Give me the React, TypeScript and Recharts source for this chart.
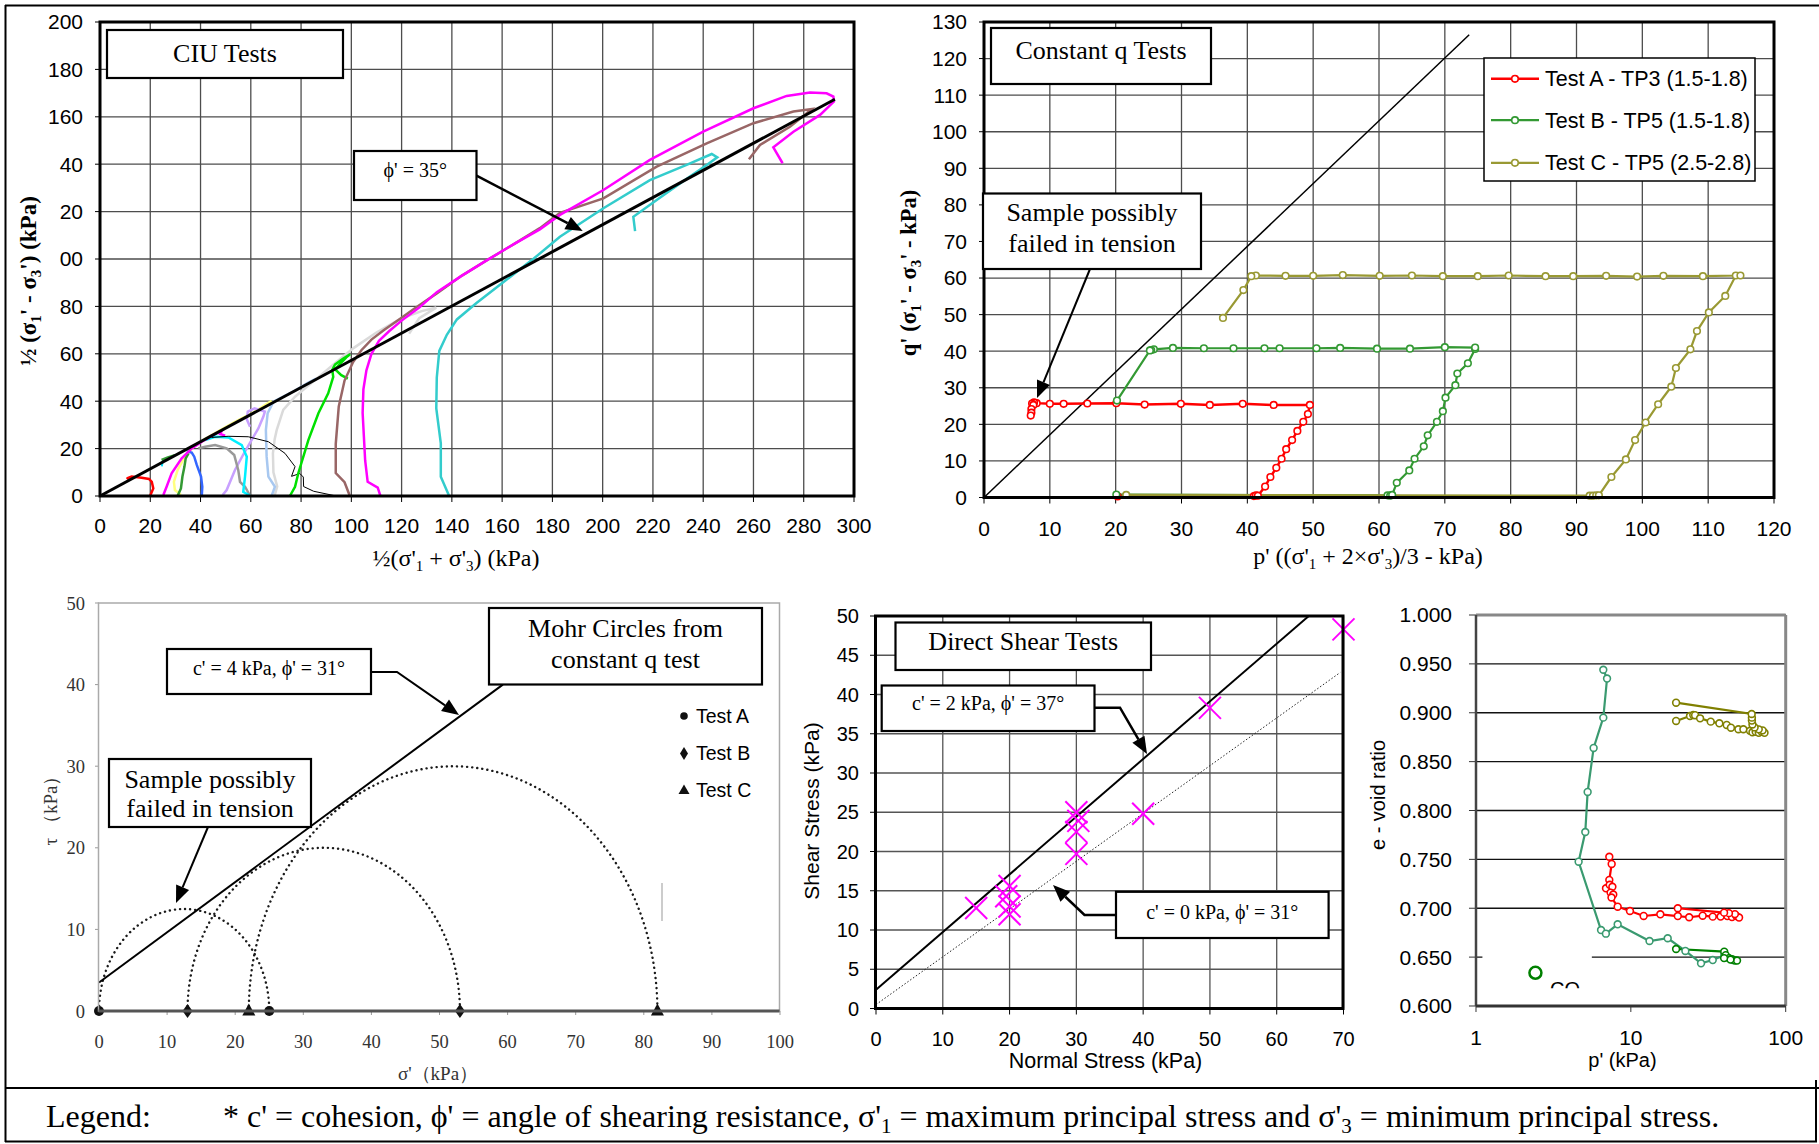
import React from "react";
import { ComposedChart, Line, Scatter, XAxis, YAxis, CartesianGrid, ReferenceArea } from "recharts";

const SERIF = "'Liberation Serif', 'Times New Roman', serif";
const SANS = "'Liberation Sans', Arial, sans-serif";

type Pt = [number, number];
const xy = (a: Pt[]) => a.map(([x, y]) => ({ x, y }));

// ---------- CIU tests: s' = ½(σ'1+σ'3), t' = ½(σ'1-σ'3) ----------
const ciuXTicks = [0, 20, 40, 60, 80, 100, 120, 140, 160, 180, 200, 220, 240, 260, 280, 300];
const ciuYTicks = [0, 20, 40, 60, 80, 100, 120, 140, 160, 180, 200];
const ciuYTickLabels = ["0", "20", "40", "60", "80", "00", "20", "40", "160", "180", "200"];
const ciuEnvelope: Pt[] = [[0, 0], [292.4, 167.4]];
const ciuLightGray: Pt[] = [[69.5, 0.3], [70.5, 4], [69, 10], [68.8, 18], [69.5, 24], [70.3, 27.8], [72.9, 36.3], [77.6, 41.9], [85.5, 48.9], [93.5, 56], [101, 62.5], [110, 69], [120, 75], [128, 78], [133.8, 79.5], [127, 75], [123, 68.5]];
const ciuLightBlue: Pt[] = [[68.3, 0.1], [69.6, 3.9], [67, 8.2], [66.3, 16.6], [66, 27.8], [66.7, 34.9], [69, 39.8], [77.6, 44.5], [82.9, 47.8], [86, 49.5]];
const ciuYellow: Pt[] = [[32.2, 0.4], [29.8, 2.5], [29.4, 6], [30.9, 11], [33.8, 16.6], [37.8, 21.5], [44.4, 25.7], [53.7, 31.3], [61.7, 35.6], [68.3, 40.2]];
const ciuLavender: Pt[] = [[48.8, 0.4], [50.4, 2.5], [53.7, 11], [57, 17.5], [60.3, 23.6], [63, 28.5], [65, 33.5], [65.6, 35.6], [61.5, 37], [58.8, 35.6], [58.4, 32.4], [59.7, 29.2]];
const ciuGray: Pt[] = [[59.7, 0.1], [57.7, 3.9], [55.7, 6], [55, 11], [53.4, 17.3], [50.4, 20.1], [45.8, 21.5], [41.8, 20.8], [39.1, 20.1]];
const ciuCyan: Pt[] = [[59.7, 0.1], [57, 1.8], [57.7, 8.2], [58.4, 16.6], [56.4, 21.5], [51.1, 24.7], [45.8, 25], [41.8, 23.6]];
const ciuCyanSmall: Pt[] = [[24.6, 12.5], [24.9, 14.5], [27, 15.6]];
const ciuBlue: Pt[] = [[40.5, 0.1], [40.7, 3.9], [40.2, 8.2], [38.5, 13.1], [37.5, 16.6], [36.5, 18.3], [34.5, 18.8]];
const ciuDarkGreen: Pt[] = [[30.9, 0.1], [32.2, 3.2], [32.8, 8.2], [33.6, 12.4], [34.1, 15.9], [35.2, 18]];
const ciuDarkGreenTop: Pt[] = [[24.5, 15.2], [27, 16.3], [29.8, 17.2]];
const ciuMagentaSmall: Pt[] = [[25.2, 0.4], [26.5, 3.9], [28.5, 9.6], [32.5, 15.9], [36.5, 20.1], [40.5, 22.9], [44.5, 25.5], [48.5, 27.6], [47.8, 26.2], [49.8, 25.5]];
const ciuRed: Pt[] = [[20, 0.2], [21.2, 3.2], [20.6, 6], [19.5, 7.2], [16.6, 7.7], [12.6, 8.2], [11, 7.5], [10.6, 7.2]];
const ciuArc: Pt[] = [[44.4, 24.7], [51, 25.2], [59, 25], [67, 22.9], [73.6, 18], [77.6, 12.4], [76.2, 8.3], [79.5, 9.5], [80.9, 8], [81, 4], [85, 2], [93.5, 0.1]];
const ciuGreen: Pt[] = [[75.6, 0.1], [77.6, 3.9], [78.9, 9.6], [82.9, 23.6], [86.9, 34.9], [90.8, 43.3], [92.8, 50.3], [92.4, 53.2], [93.5, 55.5], [96.5, 57.8], [99.5, 59.8], [98, 58.5], [93.5, 53.5], [96, 51], [98.6, 49.5]];
const ciuBrown: Pt[] = [[99.3, 0.3], [97.3, 5.8], [93.8, 9.7], [93.8, 22], [95, 37.8], [97.3, 48.7], [100.7, 56.5], [104, 61.5], [108, 66], [113, 70], [119, 74.5], [125, 79], [134, 85.5], [144, 93], [154, 99.5], [165, 106.5], [175, 113], [183, 119.5], [200.3, 125.6], [221.5, 139], [241.4, 148.8], [260, 157.3], [275.9, 162.2], [283.2, 163.3], [281.2, 161.5], [274.5, 155.8], [262.6, 148.1], [258.2, 142.1]];
const ciuMagenta: Pt[] = [[111.5, 0.3], [110.5, 3.5], [106.5, 6], [105.5, 15], [105, 25], [104.5, 35], [104.8, 45], [106, 53], [108, 60], [111, 65.5], [115, 69.5], [120, 74], [127, 79.5], [134, 86], [144, 93], [154, 99.5], [165, 106.5], [175, 112.5], [183, 118.6], [200.3, 129.1], [218.8, 141.8], [240, 153.7], [260, 163.6], [273.2, 168.8], [282.5, 170.2], [289.1, 169.9], [291.8, 168.5], [292, 166.4], [286.5, 160.8], [275.9, 153.7], [267.9, 147.1], [271.6, 140.4]];
const ciuTeal: Pt[] = [[138.8, 0.3], [135.6, 8.1], [135.6, 22.2], [133.8, 37], [134, 50], [135, 61.2], [138, 68], [142, 74.5], [149.8, 81.4], [161.2, 90.8], [172.6, 100.2], [183, 109.4], [200.3, 121.4], [218.8, 133.3], [233.4, 139.7], [243.4, 144.3], [245.6, 142.9], [241.4, 139.7], [230.8, 131.9], [221.5, 124.9], [212.2, 117.8], [212.9, 111.8]];

const ciuSeries = [
  { id: "lightgray", color: "#dadada", w: 2.5, data: ciuLightGray },
  { id: "lightblue", color: "#a8c8f0", w: 2.5, data: ciuLightBlue },
  { id: "yellow", color: "#ffff80", w: 2.5, data: ciuYellow },
  { id: "lavender", color: "#c8a0ff", w: 2.5, data: ciuLavender },
  { id: "gray", color: "#999999", w: 2.5, data: ciuGray },
  { id: "cyan", color: "#00f0ff", w: 2.5, data: ciuCyan },
  { id: "cyansmall", color: "#00e0ff", w: 2, data: ciuCyanSmall },
  { id: "blue", color: "#3366ff", w: 2.5, data: ciuBlue },
  { id: "darkgreen", color: "#339933", w: 2.5, data: ciuDarkGreen },
  { id: "darkgreentop", color: "#339933", w: 2.5, data: ciuDarkGreenTop },
  { id: "magentasmall", color: "#ff00ff", w: 2.5, data: ciuMagentaSmall },
  { id: "red", color: "#ff0000", w: 2.5, data: ciuRed },
  { id: "arc", color: "#000000", w: 1, data: ciuArc },
  { id: "green", color: "#00e000", w: 2.5, data: ciuGreen },
  { id: "brown", color: "#996666", w: 2.5, data: ciuBrown },
  { id: "teal", color: "#33cccc", w: 2.5, data: ciuTeal },
  { id: "magenta", color: "#ff00ff", w: 2.5, data: ciuMagenta },
  { id: "envelope", color: "#000000", w: 3, data: ciuEnvelope },
];

// ---------- Constant q tests: p', q' ----------
const qXTicks = [0, 10, 20, 30, 40, 50, 60, 70, 80, 90, 100, 110, 120];
const qYTicks = [0, 10, 20, 30, 40, 50, 60, 70, 80, 90, 100, 110, 120, 130];
const qCsl: Pt[] = [[0, 0], [73.7, 126.5]];
const qTestA: Pt[] = [[20.3, 0.3], [41, 0.4], [41.3, 0.6], [41.6, 0.5], [42.7, 3], [43.5, 5.6], [44.4, 8.1], [45.2, 10.6], [45.9, 13.2], [46.8, 15.7], [47.6, 18.2], [48.5, 20.7], [49.2, 22.8], [49.5, 25.3], [44, 25.3], [39.3, 25.6], [34.3, 25.3], [29.9, 25.6], [24.4, 25.4], [20.1, 25.8], [15.7, 25.7], [12.1, 25.6], [10, 25.6], [8, 25.8], [7.6, 26], [7.3, 25.7], [7.5, 25.3], [7.2, 24.2], [7.2, 23.2], [7.1, 22.4]];
const qTestB: Pt[] = [[20.1, 0.8], [61.3, 0.6], [61.7, 0.5], [62, 0.7], [62.7, 4], [64.6, 7.4], [65.4, 10.6], [66.8, 14], [67.4, 17], [68.8, 20.7], [69.7, 23.6], [70.1, 27.3], [71.6, 30.7], [71.9, 33.9], [73.5, 36.7], [74.6, 40.6], [74.6, 41], [70, 41.1], [64.7, 40.7], [59.7, 40.7], [54.1, 40.9], [50.5, 40.8], [44.9, 40.8], [42.6, 40.8], [37.9, 40.8], [33.4, 40.8], [28.7, 40.9], [25.8, 40.5], [25.4, 40.3], [25.2, 40.2], [20.2, 26.5]];
const qTestC: Pt[] = [[21.6, 0.7], [92, 0.5], [92.5, 0.5], [93, 0.6], [93.4, 0.6], [95.3, 5.6], [97.5, 10.4], [98.9, 15.7], [100.5, 20.5], [102.4, 25.5], [104.4, 30.3], [105.1, 35.4], [107.3, 40.5], [108.3, 45.5], [110.1, 50.6], [112.6, 55.1], [114.2, 60.7], [114.9, 60.7], [109.2, 60.5], [103.2, 60.6], [99.2, 60.4], [94.5, 60.6], [89.5, 60.5], [85.3, 60.5], [79.7, 60.7], [75, 60.5], [69.7, 60.5], [65, 60.7], [60.1, 60.6], [54.5, 60.8], [50, 60.6], [45.8, 60.6], [41.3, 60.7], [40.6, 60.5], [39.4, 56.7], [36.3, 49.1]];
const qSeries = [
  { id: "Test A - TP3 (1.5-1.8)", color: "#ff0000", w: 2.5, data: qTestA },
  { id: "Test B - TP5 (1.5-1.8)", color: "#339933", w: 2.2, data: qTestB },
  { id: "Test C - TP5 (2.5-2.8)", color: "#999933", w: 2.2, data: qTestC },
];

// ---------- Mohr circles from constant q test ----------
const mohrXTicks = [0, 10, 20, 30, 40, 50, 60, 70, 80, 90, 100];
const mohrYTicks = [0, 10, 20, 30, 40, 50];
const mohrSigma3 = [0, 13, 22];
const mohrSigma1 = [25, 53, 82];
const mohrEnvelope: Pt[] = [[0, 3.5], [59.3, 40]];
const mohrTestA: Pt[] = [[0, 0], [25, 0]];
const mohrTestB: Pt[] = [[13, 0], [53, 0]];
const mohrTestC: Pt[] = [[22, 0], [82, 0]];

// ---------- Direct shear tests ----------
const shearXTicks = [0, 10, 20, 30, 40, 50, 60, 70];
const shearYTicks = [0, 5, 10, 15, 20, 25, 30, 35, 40, 45, 50];
const shearPoints: Pt[] = [[15, 12.8], [20, 15.6], [19.5, 14.3], [20, 13], [20, 12], [30, 25], [30.3, 23.9], [30, 22.5], [30, 19.7], [40, 24.8], [50, 38.3], [70, 48.3]];
const shearPeak: Pt[] = [[0, 2.4], [64.8, 50]];
const shearZeroC: Pt[] = [[0, 0.5], [69.5, 42.8]];

// ---------- Void ratio vs p' ----------
const voidXTicks = [1, 10, 100];
const voidYTicks = [0.6, 0.65, 0.7, 0.75, 0.8, 0.85, 0.9, 0.95, 1.0];
const voidTeal: Pt[] = [[6.64, 0.944], [7.02, 0.935], [6.64, 0.895], [5.75, 0.864], [5.26, 0.819], [5.08, 0.778], [4.6, 0.7476], [6.42, 0.6777], [6.9, 0.674], [8.22, 0.6836], [13.2, 0.6665], [17.3, 0.6693], [22.5, 0.6563], [28.4, 0.6437], [33.8, 0.647], [40.1, 0.652], [43, 0.649], [45.5, 0.647]];
const voidRed: Pt[] = [[7.26, 0.7527], [7.52, 0.7453], [7.26, 0.729], [6.91, 0.7204], [7.3, 0.724], [7.6, 0.722], [7.4, 0.716], [7.7, 0.714], [7.5, 0.711], [8.22, 0.7016], [9.87, 0.6972], [12.1, 0.6921], [15.5, 0.6938], [20.1, 0.692], [23.8, 0.6908], [29.1, 0.6924], [33.8, 0.6914], [38, 0.6915], [42, 0.692], [45, 0.691], [48, 0.692], [50, 0.6905], [47, 0.694], [43, 0.695], [40, 0.6955], [20.1, 0.7]];
const voidDarkGreen: Pt[] = [[19.6, 0.6583], [40.1, 0.6556], [41, 0.652], [43, 0.649], [45, 0.648], [47, 0.6465], [48.5, 0.6465], [44, 0.6475], [40, 0.649]];
const voidOlive: Pt[] = [[19.6, 0.8916], [24.1, 0.8967], [25.3, 0.8977], [26, 0.8975], [28, 0.8943], [32.8, 0.8909], [37.3, 0.8892], [41.6, 0.8875], [44.3, 0.8847], [49.5, 0.8831], [53.3, 0.8831], [58.8, 0.8816], [61, 0.88], [64, 0.8805], [67, 0.8795], [70, 0.8805], [73, 0.8795], [71, 0.882], [67, 0.883], [63, 0.885], [61, 0.888], [60.5, 0.892], [60.5, 0.895], [60.3, 0.8987], [19.6, 0.9103]];
const voidCo: Pt[] = [[2.42, 0.634]];
const voidSeries = [
  { id: "teal", color: "#3a9a70", data: voidTeal },
  { id: "red", color: "#ff0000", data: voidRed },
  { id: "darkgreen", color: "#008000", data: voidDarkGreen },
  { id: "olive", color: "#808000", data: voidOlive },
];

// plot rectangles on the page
type Rect = { x: number; y: number; w: number; h: number };
const P1: Rect = { x: 100, y: 22, w: 754, h: 474 };
const P2: Rect = { x: 984, y: 22, w: 790, h: 475.5 };
const P3: Rect = { x: 98.5, y: 603, w: 681, h: 408 };
const P4: Rect = { x: 875.5, y: 616, w: 467.5, h: 392.5 };
const P5: Rect = { x: 1476, y: 615, w: 309.7, h: 391 };

const AX_L = 90;
const AX_B = 60;
const PAD_T = 12;
const PAD_R = 34;

function Plot({ r, children }: { r: Rect; children: React.ReactNode }) {
  return (
    <div style={{ position: "absolute", left: r.x - AX_L, top: r.y - PAD_T }}>
      <ComposedChart width={r.w + AX_L + PAD_R} height={r.h + PAD_T + AX_B} margin={{ top: PAD_T, right: PAD_R, bottom: 0, left: 0 }}>
        {children}
      </ComposedChart>
    </div>
  );
}

const MohrArc = (p: any) => {
  const { x, y, width, height } = p;
  const base = y + height;
  return (
    <path
      d={`M${x},${base} A${width / 2},${height} 0 0 1 ${x + width},${base}`}
      fill="none"
      stroke="#1a1a1a"
      strokeWidth={2.4}
      strokeDasharray="0.1 5"
      strokeLinecap="round"
    />
  );
};

const DotMark = (p: any) => <circle cx={p.cx} cy={p.cy} r={5} fill="#111" />;
const DiamondMark = (p: any) => <path d={`M${p.cx},${p.cy - 7} L${p.cx + 5},${p.cy} L${p.cx},${p.cy + 7} L${p.cx - 5},${p.cy} Z`} fill="#111" />;
const TriMark = (p: any) => <path d={`M${p.cx},${p.cy - 7.5} L${p.cx + 6.5},${p.cy + 4.5} L${p.cx - 6.5},${p.cy + 4.5} Z`} fill="#111" />;
const CrossMark = (p: any) => (
  <g stroke="#ff00ff" strokeWidth={2}>
    <line x1={p.cx - 11} y1={p.cy - 11} x2={p.cx + 11} y2={p.cy + 11} />
    <line x1={p.cx - 11} y1={p.cy + 11} x2={p.cx + 11} y2={p.cy - 11} />
  </g>
);
const OpenCircle = (color: string) => (p: any) => <circle cx={p.cx} cy={p.cy} r={6} fill="none" stroke={color} strokeWidth={2.5} />;

function CiuChart() {
  return (
    <Plot r={P1}>
      <CartesianGrid stroke="#4d4d4d" strokeWidth={1.3} />
      <XAxis type="number" dataKey="x" domain={[0, 300]} ticks={ciuXTicks} interval={0} height={AX_B} axisLine={false} tickSize={6} tickMargin={16} tickLine={{ stroke: "#000" }} tick={{ fill: "#000", fontSize: 21, fontFamily: SANS }} />
      <YAxis type="number" domain={[0, 200]} ticks={ciuYTicks} interval={0} width={AX_L} axisLine={false} tickSize={5} tickMargin={12} tickLine={{ stroke: "#000" }} tick={{ fill: "#000", fontSize: 21, fontFamily: SANS }} tickFormatter={(v: number) => ciuYTickLabels[ciuYTicks.indexOf(v)]} />
      {ciuSeries.map((s) => (
        <Line key={s.id} data={xy(s.data)} dataKey="y" type="linear" stroke={s.color} strokeWidth={s.w} dot={false} activeDot={false} isAnimationActive={false} />
      ))}
    </Plot>
  );
}

function ConstantQChart() {
  return (
    <Plot r={P2}>
      <CartesianGrid stroke="#4d4d4d" strokeWidth={1.3} />
      <XAxis type="number" dataKey="x" domain={[0, 120]} ticks={qXTicks} interval={0} height={AX_B} axisLine={false} tickSize={6} tickMargin={18} tickLine={{ stroke: "#000" }} tick={{ fill: "#000", fontSize: 21, fontFamily: SANS }} />
      <YAxis type="number" domain={[0, 130]} ticks={qYTicks} interval={0} width={AX_L} axisLine={false} tickSize={5} tickMargin={12} tickLine={{ stroke: "#000" }} tick={{ fill: "#000", fontSize: 21, fontFamily: SANS }} />
      <Line data={xy(qCsl)} dataKey="y" stroke="#000" strokeWidth={1.5} dot={false} activeDot={false} isAnimationActive={false} />
      {qSeries.map((s) => (
        <Line key={s.id} name={s.id} data={xy(s.data)} dataKey="y" stroke={s.color} strokeWidth={s.w} dot={{ r: 3.3, fill: "#fff", stroke: s.color, strokeWidth: 1.6 }} activeDot={false} isAnimationActive={false} />
      ))}
    </Plot>
  );
}

function MohrChart() {
  return (
    <Plot r={P3}>
      <XAxis type="number" dataKey="x" domain={[0, 100]} ticks={mohrXTicks} interval={0} height={AX_B} axisLine={false} tickSize={4} tickMargin={20} tickLine={{ stroke: "#999" }} tick={{ fill: "#333", fontSize: 18.5, fontFamily: SERIF }} />
      <YAxis type="number" domain={[0, 50]} ticks={mohrYTicks} interval={0} width={AX_L} axisLine={false} tickSize={4} tickMargin={10} tickLine={{ stroke: "#999" }} tick={{ fill: "#333", fontSize: 18.5, fontFamily: SERIF }} />
      {mohrSigma3.map((s3, i) => (
        <ReferenceArea key={i} x1={s3} x2={mohrSigma1[i]} y1={0} y2={(mohrSigma1[i] - s3) / 2} ifOverflow="visible" shape={MohrArc} />
      ))}
      <Line data={xy(mohrEnvelope)} dataKey="y" stroke="#000" strokeWidth={2} dot={false} activeDot={false} isAnimationActive={false} />
      <Scatter data={xy(mohrTestA)} dataKey="y" shape={DotMark} isAnimationActive={false} />
      <Scatter data={xy(mohrTestB)} dataKey="y" shape={DiamondMark} isAnimationActive={false} />
      <Scatter data={xy(mohrTestC)} dataKey="y" shape={TriMark} isAnimationActive={false} />
    </Plot>
  );
}

function ShearChart() {
  return (
    <Plot r={P4}>
      <CartesianGrid stroke="#555" strokeWidth={1.3} />
      <XAxis type="number" dataKey="x" domain={[0, 70]} ticks={shearXTicks} interval={0} height={AX_B} axisLine={false} tickSize={6} tickMargin={17} tickLine={{ stroke: "#000" }} tick={{ fill: "#000", fontSize: 20, fontFamily: SANS }} />
      <YAxis type="number" domain={[0, 50]} ticks={shearYTicks} interval={0} width={AX_L} axisLine={false} tickSize={6} tickMargin={11} tickLine={{ stroke: "#000" }} tick={{ fill: "#000", fontSize: 20, fontFamily: SANS }} />
      <Line data={xy(shearZeroC)} dataKey="y" stroke="#222" strokeWidth={1} strokeDasharray="1.5 2" dot={false} activeDot={false} isAnimationActive={false} />
      <Line data={xy(shearPeak)} dataKey="y" stroke="#000" strokeWidth={2} dot={false} activeDot={false} isAnimationActive={false} />
      <Scatter data={xy(shearPoints)} dataKey="y" shape={CrossMark} isAnimationActive={false} />
    </Plot>
  );
}

function VoidChart() {
  return (
    <Plot r={P5}>
      <CartesianGrid stroke="#111" strokeWidth={1.3} vertical={false} />
      <ReferenceArea x1={1.1} x2={5.6} y1={0.646} y2={0.654} fill="#fff" fillOpacity={1} stroke="none" />
      <XAxis type="number" dataKey="x" scale="log" domain={[1, 100]} ticks={voidXTicks} interval={0} height={AX_B} axisLine={false} tickSize={6} tickMargin={18} tickLine={{ stroke: "#333" }} tick={{ fill: "#000", fontSize: 21, fontFamily: SANS }} />
      <YAxis type="number" domain={[0.6, 1.0]} ticks={voidYTicks} interval={0} width={AX_L} axisLine={false} tickSize={7} tickMargin={17} tickLine={{ stroke: "#333" }} tick={{ fill: "#000", fontSize: 21, fontFamily: SANS }} tickFormatter={(v: number) => v.toFixed(3)} />
      {voidSeries.map((s) => (
        <Line key={s.id} data={xy(s.data)} dataKey="y" stroke={s.color} strokeWidth={2.2} dot={{ r: 3.4, fill: "#fff", stroke: s.color, strokeWidth: 1.6 }} activeDot={false} isAnimationActive={false} />
      ))}
      <Scatter data={xy(voidCo)} dataKey="y" shape={OpenCircle("#008000")} isAnimationActive={false} />
    </Plot>
  );
}

function Arrow({ pts, w = 2 }: { pts: Pt[]; w?: number }) {
  const [x1, y1] = pts[pts.length - 2];
  const [x2, y2] = pts[pts.length - 1];
  const a = Math.atan2(y2 - y1, x2 - x1);
  const L = 17;
  const H = 7;
  const bx = x2 - L * Math.cos(a);
  const by = y2 - L * Math.sin(a);
  const line = [...pts.slice(0, -1), [bx, by]].map((p) => p.join(",")).join(" ");
  const head = [[x2, y2], [bx + H * Math.sin(a), by - H * Math.cos(a)], [bx - H * Math.sin(a), by + H * Math.cos(a)]].map((p) => p.join(",")).join(" ");
  return (
    <g>
      <polyline points={line} fill="none" stroke="#000" strokeWidth={w} />
      <polygon points={head} fill="#000" />
    </g>
  );
}

function Box({ x, y, w, h, lines, size = 26, lh = 31, dy = 0 }: { x: number; y: number; w: number; h: number; lines: string[]; size?: number; lh?: number; dy?: number }) {
  const cy = y + h / 2;
  const first = cy - ((lines.length - 1) * lh) / 2 + size * 0.33 + dy;
  return (
    <g>
      <rect x={x} y={y} width={w} height={h} fill="#fff" stroke="#000" strokeWidth={2.2} />
      {lines.map((t, i) => (
        <text key={i} x={x + w / 2} y={first + i * lh} textAnchor="middle" fontFamily={SERIF} fontSize={size} fill="#000">
          {t}
        </text>
      ))}
    </g>
  );
}

function Overlay() {
  const sub = 15;
  return (
    <svg width={1819} height={1144} style={{ position: "absolute", left: 0, top: 0, pointerEvents: "none" }}>
      <g stroke="#000" strokeWidth={2} fill="none">
        <line x1={5} y1={5.5} x2={1819} y2={5.5} />
        <line x1={5.5} y1={5} x2={5.5} y2={1142} />
        <line x1={5} y1={1088} x2={1819} y2={1088} />
        <line x1={5} y1={1141.5} x2={1817} y2={1141.5} />
        <line x1={1816} y1={1080} x2={1816} y2={1142} />
      </g>

      {/* plot frames */}
      <rect x={P1.x} y={P1.y} width={P1.w} height={P1.h} fill="none" stroke="#000" strokeWidth={3} />
      <rect x={P2.x} y={P2.y} width={P2.w} height={P2.h} fill="none" stroke="#000" strokeWidth={3} />
      <rect x={P3.x} y={P3.y} width={P3.w} height={P3.h} fill="none" stroke="#aaa" strokeWidth={1.5} />
      <line x1={P3.x} y1={P3.y + P3.h} x2={P3.x + P3.w} y2={P3.y + P3.h} stroke="#555" strokeWidth={3} />
      <line x1={662} y1={883} x2={662} y2={921} stroke="#bbb" strokeWidth={1.5} />
      <rect x={P4.x} y={P4.y} width={P4.w} height={P4.h} fill="none" stroke="#000" strokeWidth={3} />
      <line x1={P5.x} y1={P5.y} x2={P5.x + P5.w} y2={P5.y} stroke="#888" strokeWidth={3} />
      <line x1={P5.x + P5.w} y1={P5.y} x2={P5.x + P5.w} y2={P5.y + P5.h} stroke="#888" strokeWidth={3} />
      <line x1={P5.x} y1={P5.y} x2={P5.x} y2={P5.y + P5.h} stroke="#444" strokeWidth={2.5} />
      <line x1={P5.x} y1={P5.y + P5.h} x2={P5.x + P5.w} y2={P5.y + P5.h} stroke="#333" strokeWidth={3} />

      {/* CIU panel */}
      <Box x={107} y={30} w={236} h={48} lines={["CIU Tests"]} dy={-1} />
      <Box x={354} y={151} w={122.5} h={49} lines={["ϕ' = 35°"]} size={20} dy={-5} />
      <Arrow pts={[[476.5, 175.7], [582.7, 231]]} w={2.5} />
      <text x={456} y={566} textAnchor="middle" fontFamily={SERIF} fontSize={24}>
        ½(σ'<tspan dy={5} fontSize={sub}>1</tspan>
        <tspan dy={-5}> + σ'</tspan>
        <tspan dy={5} fontSize={sub}>3</tspan>
        <tspan dy={-5}>) (kPa)</tspan>
      </text>
      <text transform="translate(36,281) rotate(-90)" textAnchor="middle" fontFamily={SERIF} fontSize={23} fontWeight="bold">
        ½ (σ<tspan dy={5} fontSize={sub}>1</tspan>
        <tspan dy={-5}>' - σ</tspan>
        <tspan dy={5} fontSize={sub}>3</tspan>
        <tspan dy={-5}>') (kPa)</tspan>
      </text>

      {/* constant q panel */}
      <Box x={991} y={28} w={220} h={56} lines={["Constant q Tests"]} dy={-6} />
      <Box x={983} y={193.5} w={218} h={75.5} lines={["Sample possibly", "failed in tension"]} dy={-3.5} />
      <Arrow pts={[[1090, 269], [1037, 398]]} w={2} />
      <rect x={1484} y={58} width={271} height={123} fill="#fff" stroke="#000" strokeWidth={1.5} />
      {qSeries.map((s, i) => {
        const cy = [78.8, 120.2, 162.8][i];
        return (
          <g key={s.id}>
            <line x1={1491} y1={cy} x2={1539} y2={cy} stroke={s.color} strokeWidth={s.w} />
            <circle cx={1515} cy={cy} r={3.3} fill="#fff" stroke={s.color} strokeWidth={1.6} />
            <text x={1545} y={cy + 7.5} fontFamily={SANS} fontSize={21.5}>{s.id}</text>
          </g>
        );
      })}
      <text x={1368} y={564} textAnchor="middle" fontFamily={SERIF} fontSize={24}>
        p' ((σ'<tspan dy={5} fontSize={sub}>1</tspan>
        <tspan dy={-5}> + 2×σ'</tspan>
        <tspan dy={5} fontSize={sub}>3</tspan>
        <tspan dy={-5}>)/3 - kPa)</tspan>
      </text>
      <text transform="translate(916,273) rotate(-90)" textAnchor="middle" fontFamily={SERIF} fontSize={22.5} fontWeight="bold">
        q' (σ<tspan dy={5} fontSize={sub}>1</tspan>
        <tspan dy={-5}>' - σ</tspan>
        <tspan dy={5} fontSize={sub}>3</tspan>
        <tspan dy={-5}>' - kPa)</tspan>
      </text>

      {/* Mohr circle panel */}
      <Box x={489} y={608} w={273} h={76.5} lines={["Mohr Circles from", "constant q test"]} dy={-2.5} />
      <Box x={167} y={649} w={204} h={45} lines={["c' = 4 kPa, ϕ' = 31°"]} size={20} dy={-3.5} />
      <Arrow pts={[[371, 672], [397, 672], [459, 715]]} w={2} />
      <Box x={109} y={759} w={202} h={68} lines={["Sample possibly", "failed in tension"]} lh={29.5} dy={1} />
      <Arrow pts={[[208, 827], [176, 903]]} w={2} />
      <circle cx={684} cy={716} r={3.8} fill="#111" />
      <path d="M684,747 L688,753.5 L684,760 L680,753.5 Z" fill="#111" />
      <path d="M684,784.5 L689.5,794 L678.5,794 Z" fill="#111" />
      <text x={696} y={722.5} fontFamily={SANS} fontSize={19.5}>Test A</text>
      <text x={696} y={760} fontFamily={SANS} fontSize={19.5}>Test B</text>
      <text x={696} y={797} fontFamily={SANS} fontSize={19.5}>Test C</text>
      <text transform="translate(57,806) rotate(-90)" textAnchor="middle" fontFamily={SERIF} fontSize={19} fill="#333">τ （kPa）</text>
      <text x={438} y={1080} textAnchor="middle" fontFamily={SERIF} fontSize={19} fill="#333">σ'（kPa）</text>

      {/* direct shear panel */}
      <Box x={895.5} y={622.5} w={255.5} h={47.5} lines={["Direct Shear Tests"]} dy={-4.5} />
      <Box x={881.7} y={685.5} w={212.8} h={45.5} lines={["c' = 2 kPa, ϕ' = 37°"]} size={20} dy={-5} />
      <Arrow pts={[[1094.5, 707.7], [1120, 707.7], [1147, 754]]} w={2.5} />
      <Box x={1116} y={891.8} w={212.6} h={46.2} lines={["c' = 0 kPa, ϕ' = 31°"]} size={20} dy={-2.5} />
      <Arrow pts={[[1116, 915], [1084.5, 915], [1053, 885]]} w={2.5} />
      <text transform="translate(818.5,811) rotate(-90)" textAnchor="middle" fontFamily={SANS} fontSize={21}>Shear Stress (kPa)</text>
      <text x={1105.5} y={1068} textAnchor="middle" fontFamily={SANS} fontSize={21.5}>Normal Stress (kPa)</text>

      {/* void ratio panel */}
      <clipPath id="coClip">
        <rect x={1540} y={970} width={60} height={18.3} />
      </clipPath>
      <text x={1550} y={996} fontFamily={SANS} fontSize={20} clipPath="url(#coClip)">CO</text>
      <text transform="translate(1385,795) rotate(-90)" textAnchor="middle" fontFamily={SANS} fontSize={20}>e - void ratio</text>
      <text x={1622.5} y={1067} textAnchor="middle" fontFamily={SANS} fontSize={20}>p' (kPa)</text>

      {/* legend row */}
      <text x={46} y={1127} fontFamily={SERIF} fontSize={32}>Legend:</text>
      <text x={223} y={1127} fontFamily={SERIF} fontSize={32}>
        * c' = cohesion, ϕ' = angle of shearing resistance, σ'<tspan dy={6} fontSize={21}>1</tspan>
        <tspan dy={-6}> = maximum principal stress and σ'</tspan>
        <tspan dy={6} fontSize={21}>3</tspan>
        <tspan dy={-6}> = minimum principal stress.</tspan>
      </text>
    </svg>
  );
}

export default function App() {
  return (
    <div style={{ position: "absolute", left: 0, top: 0, width: 1819, height: 1144, background: "#fff", overflow: "hidden" }}>
      <CiuChart />
      <ConstantQChart />
      <MohrChart />
      <ShearChart />
      <VoidChart />
      <Overlay />
    </div>
  );
}
